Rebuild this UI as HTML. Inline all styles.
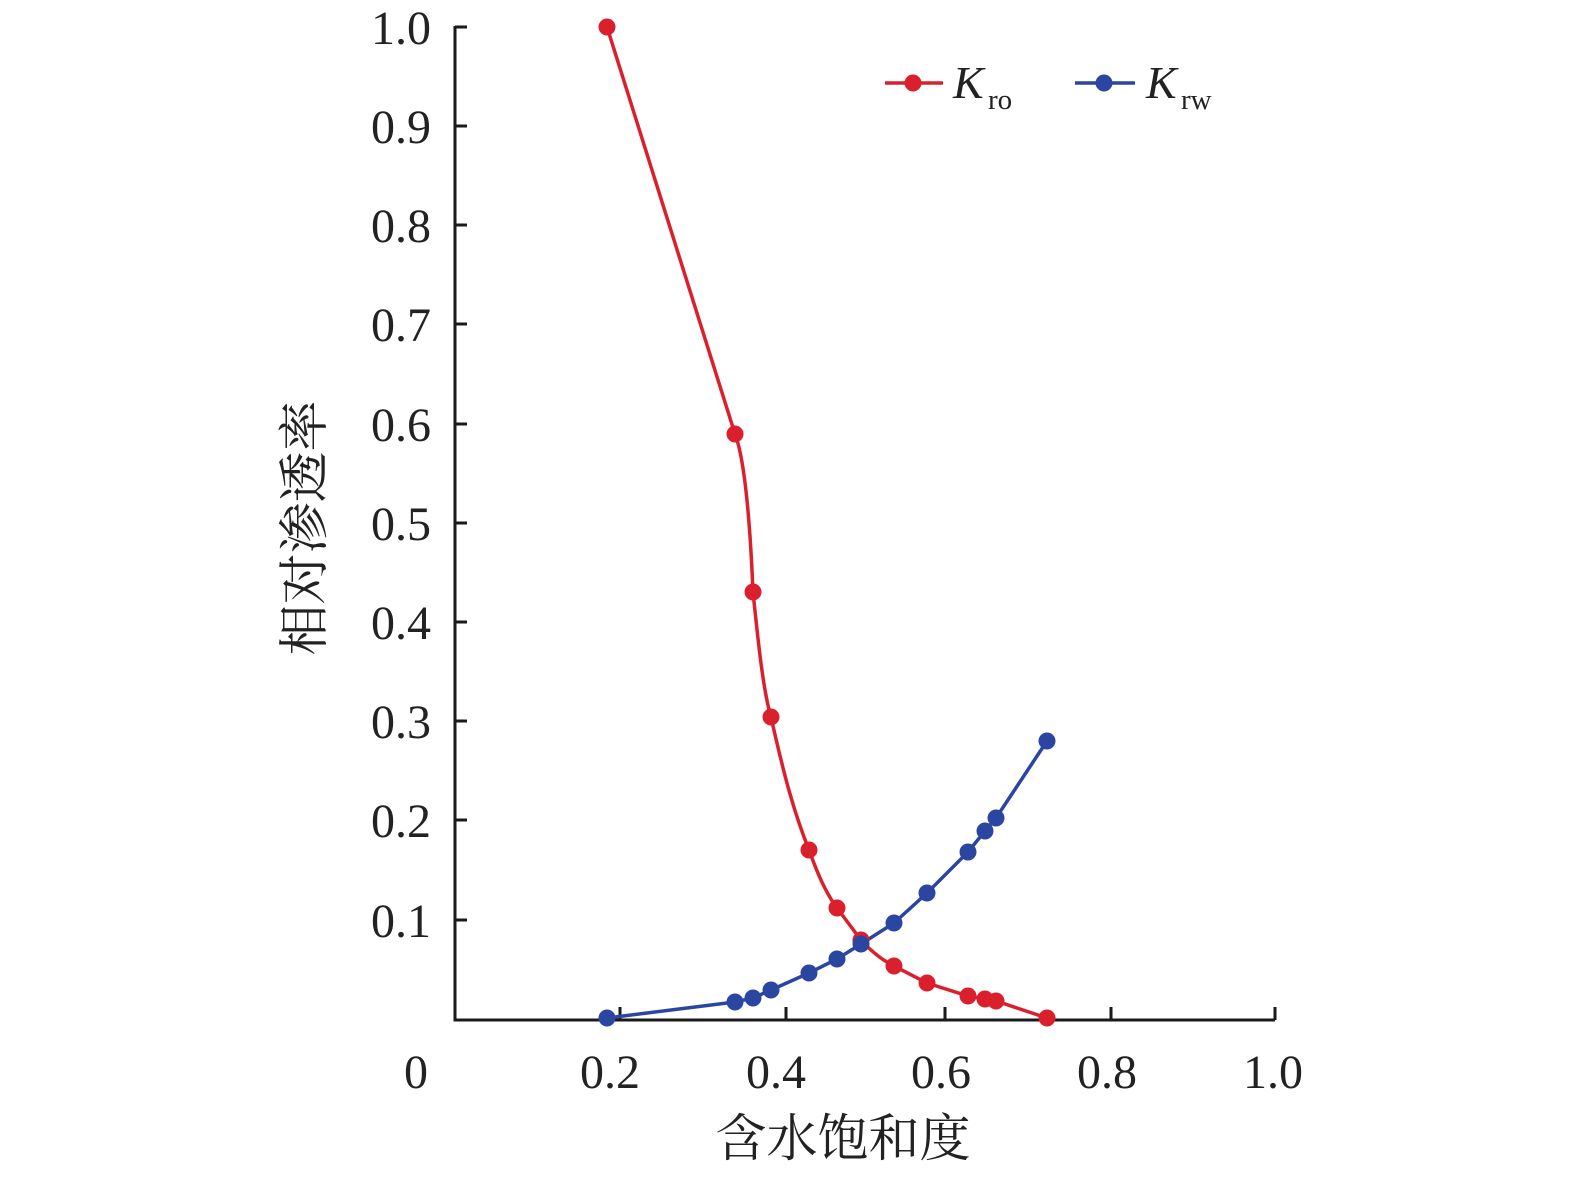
<!DOCTYPE html>
<html><head><meta charset="utf-8"><style>
html,body{margin:0;padding:0;background:#fff;overflow:hidden}
svg{display:block}
svg text{font-family:"Liberation Serif","Noto Serif CJK SC",serif;fill:#222}
</style></head><body>
<svg width="1575" height="1177" viewBox="0 0 1575 1177" xmlns="http://www.w3.org/2000/svg">
<g stroke="#1a1a1a" stroke-width="3" fill="none">
<path d="M455,26 V1020 H1275"/>
<path d="M455,27 h12 M455,126 h12 M455,225 h12 M455,324 h12 M455,424 h12 M455,523 h12 M455,622 h12 M455,721 h12 M455,820 h12 M455,920 h12"/>
<path d="M620,1020 v-13 M786,1020 v-13 M945,1020 v-13 M1111,1020 v-13 M1275,1020 v-13"/>
</g>
<g font-size="48" text-anchor="end">
<text x="431" y="44">1.0</text><text x="431" y="143">0.9</text><text x="431" y="242">0.8</text><text x="431" y="341">0.7</text><text x="431" y="441">0.6</text><text x="431" y="540">0.5</text><text x="431" y="639">0.4</text><text x="431" y="738">0.3</text><text x="431" y="837">0.2</text><text x="431" y="937">0.1</text>
</g>
<g font-size="48" text-anchor="middle">
<text x="416" y="1088">0</text><text x="610" y="1088">0.2</text><text x="776" y="1088">0.4</text><text x="941" y="1088">0.6</text><text x="1107" y="1088">0.8</text><text x="1273" y="1088">1.0</text>
</g>
<text x="843" y="1156" font-size="51" text-anchor="middle">含水饱和度</text>
<text transform="translate(322,528) rotate(-90)" font-size="51" text-anchor="middle">相对渗透率</text>
<path d="M607,27 L735,434 C745,460 750,520 753,592 C758,640 763,690 771,717 C785,780 795,815 809,850 C818,875 826,893 837,908 L861,940 C870,950 882,960 894,966 L927,983 L968,996 L996,1001 L1047,1018" stroke="#d9202c" stroke-width="3.5" fill="none"/>
<path d="M607,1018 L735,1002 L753,998 L771,990 L809,973 L837,959 L861,944 L894,923 L927,893 L968,852 L985,831 L996,818 L1047,741" stroke="#2b46a0" stroke-width="3.5" fill="none"/>
<g fill="#d9202c">
<circle cx="607" cy="27" r="8.5"/><circle cx="735" cy="434" r="8.5"/><circle cx="753" cy="592" r="8.5"/><circle cx="771" cy="717" r="8.5"/><circle cx="809" cy="850" r="8.5"/><circle cx="837" cy="908" r="8.5"/><circle cx="861" cy="940" r="8.5"/><circle cx="894" cy="966" r="8.5"/><circle cx="927" cy="983" r="8.5"/><circle cx="968" cy="996" r="8.5"/><circle cx="985" cy="999" r="8.5"/><circle cx="996" cy="1001" r="8.5"/><circle cx="1047" cy="1018" r="8.5"/>
<circle cx="913" cy="83" r="8.5"/>
</g>
<g fill="#2b46a0">
<circle cx="607" cy="1018" r="8.5"/><circle cx="735" cy="1002" r="8.5"/><circle cx="753" cy="998" r="8.5"/><circle cx="771" cy="990" r="8.5"/><circle cx="809" cy="973" r="8.5"/><circle cx="837" cy="959" r="8.5"/><circle cx="861" cy="944" r="8.5"/><circle cx="894" cy="923" r="8.5"/><circle cx="927" cy="893" r="8.5"/><circle cx="968" cy="852" r="8.5"/><circle cx="985" cy="831" r="8.5"/><circle cx="996" cy="818" r="8.5"/><circle cx="1047" cy="741" r="8.5"/>
<circle cx="1104" cy="83" r="8.5"/>
</g>
<path d="M885,83 H943" stroke="#d9202c" stroke-width="3.5"/>
<path d="M1075,83 H1135" stroke="#2b46a0" stroke-width="3.5"/>
<text x="953" y="98" font-size="46" font-style="italic">K</text><text x="988" y="109" font-size="29">ro</text>
<text x="1146" y="98" font-size="46" font-style="italic">K</text><text x="1181" y="109" font-size="29">rw</text>
</svg>
</body></html>
